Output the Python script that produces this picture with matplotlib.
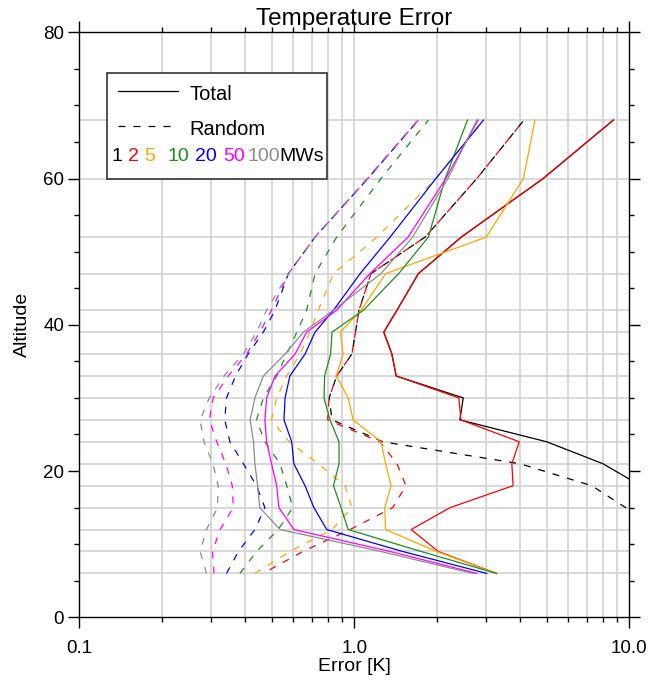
import numpy as np
import matplotlib
matplotlib.use("Agg")
import matplotlib.pyplot as plt
import matplotlib.patches as patches
from matplotlib.ticker import FixedLocator, NullFormatter

plt.rcParams['font.family'] = ['Liberation Sans', 'DejaVu Sans']
plt.rcParams['lines.scale_dashes'] = False

nan = np.nan
alt = [6, 9, 12, 15, 18, 21, 24, 27, 30, 33, 36, 39, 42, 47, 52, 60, 68]

mws = ['1', '2', '5', '10', '20', '50', '100']
colors = ['black', 'red', '#ffa500', '#1a901a', 'blue', 'magenta', '#8c8c8c']

# total error (solid)
tot1 = [nan, nan, nan, nan, 11.0, 8.02, 5.01, 2.42, 2.49, 1.42, 1.37, 1.28, 1.43, 1.71, 2.45, 4.86, 8.75]
tot2 = [3.29, 2.02, 1.61, 2.23, 3.78, 3.74, 3.98, 2.44, 2.40, 1.42, 1.37, 1.28, 1.43, 1.71, 2.45, 4.86, 8.75]
tot5 = [3.29, 1.99, 1.30, 1.29, 1.36, 1.30, 1.25, 0.99, 0.95, 0.86, 0.91, 0.89, 1.06, 1.30, 3.02, 4.12, 4.54]
tot10 = [3.29, 1.75, 0.95, 0.895, 0.84, 0.88, 0.88, 0.816, 0.776, 0.78, 0.82, 0.83, 1.08, 1.45, 1.86, 2.14, 2.58]
tot20 = [3.03, 1.50, 0.794, 0.713, 0.662, 0.603, 0.592, 0.555, 0.56, 0.583, 0.662, 0.72, 0.84, 1.05, 1.35, 1.98, 2.95]
tot50 = [2.79, 1.35, 0.603, 0.532, 0.522, 0.50, 0.48, 0.473, 0.48, 0.515, 0.609, 0.671, 0.863, 1.14, 1.57, 2.15, 2.82]
tot100 = [2.70, 1.25, 0.537, 0.453, 0.445, 0.435, 0.43, 0.418, 0.435, 0.467, 0.56, 0.653, 0.84, 1.25, 1.63, 2.19, 2.79]

# random error (dashed)
rnd1 = [nan, nan, 11.6, 9.7, 7.3, 4.0, 1.27, 0.83, 0.81, 0.863, 0.98, 1.01, 1.04, 1.15, 1.81, 2.79, 4.14]
rnd2 = [0.466, 0.65, 0.965, 1.38, 1.54, 1.43, 1.24, 0.80, 0.81, 0.863, 0.98, 1.01, 1.04, 1.15, 1.81, 2.79, 4.14]
rnd5 = [0.435, 0.583, 0.83, 0.98, 0.925, 0.74, 0.58, 0.50, 0.522, 0.568, 0.635, 0.69, 0.74, 0.84, 1.21, 1.98, 2.95]
rnd10 = [0.384, 0.441, 0.529, 0.597, 0.568, 0.537, 0.473, 0.441, 0.467, 0.522, 0.568, 0.618, 0.671, 0.72, 0.863, 1.25, 1.86]
rnd20 = [0.343, 0.379, 0.435, 0.473, 0.441, 0.395, 0.353, 0.338, 0.343, 0.37, 0.411, 0.467, 0.515, 0.576, 0.72, 1.12, 1.71]
rnd50 = [0.309, 0.305, 0.325, 0.363, 0.36, 0.341, 0.316, 0.297, 0.307, 0.348, 0.406, 0.453, 0.50, 0.576, 0.72, 1.12, 1.71]
rnd100 = [0.29, 0.275, 0.29, 0.318, 0.32, 0.306, 0.284, 0.275, 0.297, 0.336, 0.395, 0.441, 0.48, 0.576, 0.72, 1.11, 1.70]

totals = [tot1, tot2, tot5, tot10, tot20, tot50, tot100]
randoms = [rnd1, rnd2, rnd5, rnd10, rnd20, rnd50, rnd100]

fig = plt.figure(figsize=(6.49, 6.82), dpi=100)
ax = fig.add_axes([79.3/649, 64.7/682, 550/649, 585/682])

ax.set_xscale('log')
ax.set_xlim(0.1, 10)
ax.set_ylim(0, 80)

# grid: log minor positions and the retrieval levels
gx = [m * d for d in (0.1, 1.0) for m in range(2, 10)] + [1.0]
for x in gx:
    ax.axvline(x, color='#d2d2d2', lw=1.2, zorder=0)
for a in alt:
    ax.axhline(a, color='#d2d2d2', lw=1.2, zorder=0)

dash = (5.0, 5.8)
for i in range(len(mws)):
    ln, = ax.plot(randoms[i], alt, color=colors[i], lw=0.9)
    # black and red random overlap, shift red pattern so both show
    if i == 1:
        ln.set_linestyle((5.4, dash))
    else:
        ln.set_linestyle((0, dash))
    ax.plot(totals[i], alt, color=colors[i], lw=0.9)

ax.xaxis.set_major_locator(FixedLocator([0.1, 1.0, 10.0]))
ax.xaxis.set_minor_locator(FixedLocator(gx[:16]))
ax.set_xticklabels(['0.1', '1.0', '10.0'])
ax.xaxis.set_minor_formatter(NullFormatter())
ax.set_yticks([0, 20, 40, 60, 80])
ax.set_yticks(np.arange(0, 81, 5), minor=True)

ax.tick_params(which='both', direction='out', top=True, right=True, width=1, colors='black')
ax.tick_params(which='major', length=8, labelsize=13.5)
ax.tick_params(which='minor', length=3.6)
ax.tick_params(axis='x', which='major', pad=8)
ax.tick_params(axis='y', which='major', pad=3)
for s in ax.spines.values():
    s.set_linewidth(1)

ax.set_title('Temperature Error', fontsize=17.5, pad=5)
ax.set_xlabel('Error [K]', fontsize=14, labelpad=1)
ax.set_ylabel('Altitude', fontsize=14, labelpad=9)

# legend box
ax.add_patch(patches.Rectangle((0.051, 0.749), 0.399, 0.181, transform=ax.transAxes,
                               facecolor='white', edgecolor='#333333', lw=1.2, zorder=5))
ax.plot([0.07, 0.18], [0.90, 0.90], transform=ax.transAxes, color='black', lw=0.9, zorder=6)
ax.text(0.201, 0.894, 'Total', transform=ax.transAxes, fontsize=14.5, va='center', zorder=6)
ax.plot([0.07, 0.18], [0.839, 0.839], transform=ax.transAxes, color='black', lw=0.9,
        dashes=dash, zorder=6)
ax.text(0.201, 0.834, 'Random', transform=ax.transAxes, fontsize=14.5, va='center', zorder=6)
lx = [0.058, 0.088, 0.118, 0.161, 0.211, 0.262, 0.305]
for i in range(len(mws)):
    ax.text(lx[i], 0.788, mws[i], transform=ax.transAxes, fontsize=14, va='center',
            color=colors[i], zorder=6)
ax.text(0.364, 0.788, 'MWs', transform=ax.transAxes, fontsize=14, va='center', zorder=6)

fig.savefig('out.png', dpi=100)
